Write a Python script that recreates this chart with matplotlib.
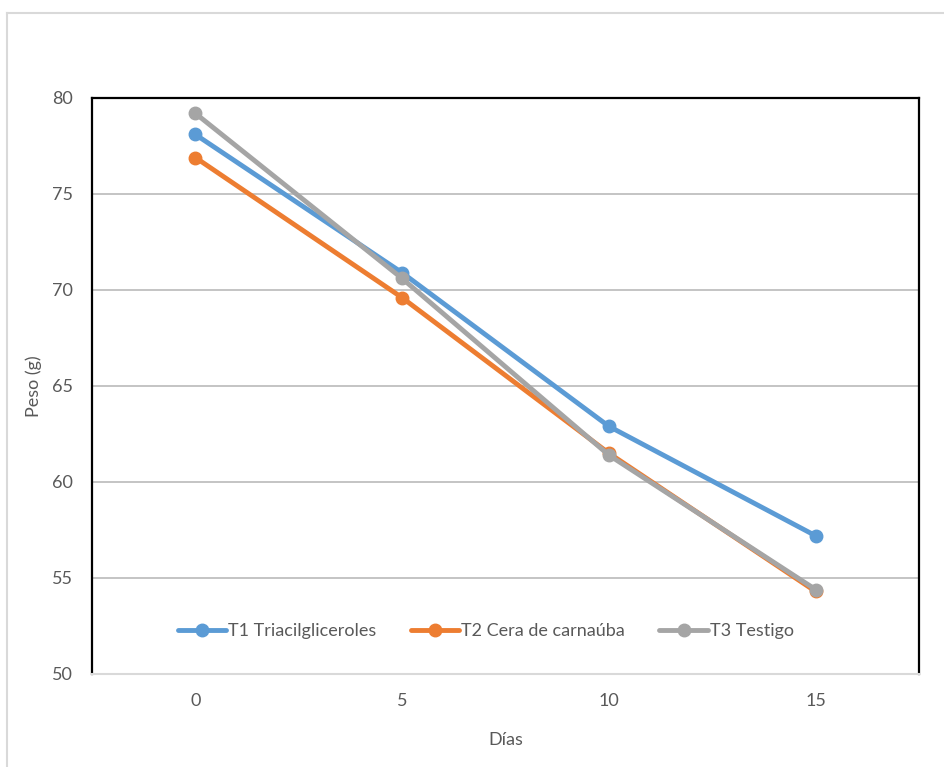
import matplotlib
matplotlib.use("Agg")
import matplotlib.pyplot as plt
from matplotlib.lines import Line2D

plt.rcParams['font.family'] = ['Lato', 'DejaVu Sans']

dias = ["0", "5", "10", "15"]
t1 = [78.1, 70.9, 62.9, 57.2]
t2 = [76.9, 69.6, 61.5, 54.3]
t3 = [79.2, 70.6, 61.4, 54.4]
series_names = ["T1 Triacilgliceroles", "T2 Cera de carnaúba", "T3 Testigo"]
colors = ["#5B9BD5", "#ED7D31", "#A5A5A5"]
yticks = [50, 55, 60, 65, 70, 75, 80]

W, H = 945, 767
fig = plt.figure(figsize=(W / 100, H / 100), dpi=100)
ax = fig.add_axes([92 / W, 1 - 674 / H, (919 - 92) / W, (674 - 98) / H])

# outer chart border (left and top)
fig.add_artist(Line2D([7 / W, 7 / W], [0, 1 - 13 / H], transform=fig.transFigure,
                      color="#D9D9D9", lw=1.5))
fig.add_artist(Line2D([7 / W, 943 / W], [1 - 13 / H, 1 - 13 / H], transform=fig.transFigure,
                      color="#D9D9D9", lw=1.5))

x = list(range(len(dias)))
for vals, name, c in zip([t1, t2, t3], series_names, colors):
    ax.plot(x, vals, color=c, lw=3.5, marker="o", markersize=9, label=name,
            solid_capstyle="round", zorder=3)

ax.set_xlim(-0.5, 3.5)
ax.set_ylim(50, 80)
ax.set_xticks(x)
ax.set_xticklabels(dias)
ax.set_yticks(yticks)
ax.yaxis.grid(True, color="#BFBFBF", lw=1.3)
ax.set_axisbelow(True)
ax.tick_params(axis="both", length=0, labelsize=13, colors="#595959")
ax.tick_params(axis="y", pad=13.5)
ax.tick_params(axis="x", pad=14)

for side in ["top", "left", "right"]:
    ax.spines[side].set_color("black")
    ax.spines[side].set_linewidth(1.6)
ax.spines["bottom"].set_color("#D9D9D9")
ax.spines["bottom"].set_linewidth(1.5)

ax.set_xlabel("Días", fontsize=13, color="#595959")
ax.xaxis.label.set_va("center")
ax.xaxis.set_label_coords(0.5, (674 - 740) / (674 - 98))
ax.set_ylabel("Peso (g)", fontsize=13, color="#595959")
ax.yaxis.label.set_va("center")
ax.yaxis.set_label_coords((34 - 92) / (919 - 92), 0.5)

leg = ax.legend(loc="center", bbox_to_anchor=(0.476, (674 - 631) / (674 - 98)), ncol=3,
                frameon=False, fontsize=13, handlelength=2.7, handletextpad=0.1,
                columnspacing=1.9, borderaxespad=0)
for t in leg.get_texts():
    t.set_color("#595959")

fig.savefig("out.png", dpi=100)
